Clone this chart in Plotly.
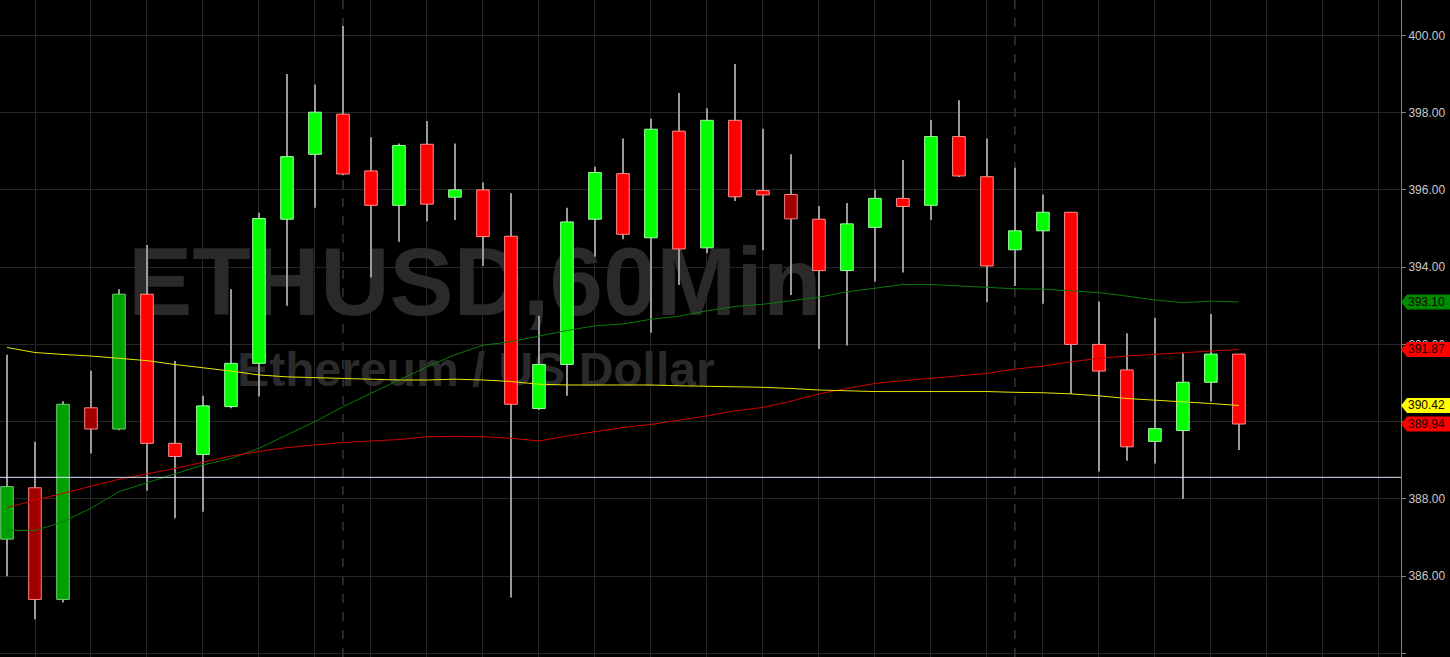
import plotly.graph_objects as go

# ---------------- data ----------------
open_ = [386.96, 388.29, 385.40, 390.36, 389.81, 393.30, 389.44, 389.15, 390.39, 391.51,
         395.24, 396.92, 397.96, 396.49, 395.60, 397.18, 395.81, 396.00, 394.80, 390.34,
         391.48, 395.24, 396.42, 394.76, 397.52, 394.50, 397.80, 395.98, 395.88, 395.24,
         393.91, 395.03, 395.78, 395.60, 397.38, 396.34, 394.45, 394.94, 395.42, 392.00,
         391.34, 389.49, 389.77, 391.02, 391.75]
high = [391.73, 389.48, 390.53, 391.32, 393.43, 394.57, 391.57, 390.67, 393.43, 395.41,
        399.00, 398.73, 400.24, 397.36, 397.20, 397.78, 397.20, 396.19, 395.91, 392.74,
        395.54, 396.60, 397.33, 397.84, 398.51, 398.11, 399.26, 397.58, 396.92, 395.58,
        395.66, 396.01, 396.77, 397.81, 398.32, 397.33, 396.57, 395.88, 395.42, 393.11,
        392.29, 392.69, 391.77, 392.79, 391.75]
low = [386.00, 384.89, 385.32, 389.18, 389.78, 388.21, 387.50, 387.67, 390.35, 390.65,
       393.00, 395.54, 396.38, 393.73, 394.66, 395.19, 395.22, 394.03, 385.45, 390.30,
       390.67, 394.27, 394.72, 392.30, 393.54, 394.36, 395.71, 394.44, 393.28, 391.88,
       391.97, 393.63, 393.86, 395.22, 396.33, 393.09, 393.51, 393.05, 390.72, 388.71,
       388.99, 388.92, 388.00, 390.52, 389.27]
close = [388.32, 385.40, 390.45, 389.81, 393.30, 389.44, 389.10, 390.41, 391.51, 395.26,
         396.86, 398.01, 396.41, 395.60, 397.15, 395.63, 396.00, 394.79, 390.45, 391.48,
         395.17, 396.45, 394.85, 397.57, 394.47, 397.80, 395.82, 395.87, 395.25, 393.91,
         395.12, 395.78, 395.57, 397.38, 396.36, 394.03, 394.94, 395.42, 392.00, 391.31,
         389.35, 389.82, 391.02, 391.75, 389.94]
# candle style: G bright green, g dark green, R bright red, r dark red
style = ["g", "r", "g", "r", "g", "R", "R", "G", "G", "G",
         "G", "G", "R", "R", "G", "R", "G", "R", "R", "G",
         "G", "G", "R", "G", "R", "G", "R", "R", "r", "R",
         "G", "G", "R", "G", "R", "R", "G", "G", "R", "R",
         "R", "G", "G", "G", "R"]

ma_green = [387.20, 387.18, 387.41, 387.76, 388.19, 388.42, 388.65, 388.88, 389.05, 389.31,
            389.66, 390.00, 390.39, 390.73, 391.06, 391.42, 391.73, 391.98, 392.07, 392.22,
            392.36, 392.48, 392.53, 392.65, 392.73, 392.87, 392.98, 393.04, 393.13, 393.22,
            393.36, 393.45, 393.55, 393.55, 393.51, 393.47, 393.44, 393.43, 393.38, 393.34,
            393.25, 393.15, 393.08, 393.12, 393.10]
ma_red = [387.78, 387.97, 388.14, 388.33, 388.51, 388.65, 388.79, 388.95, 389.11, 389.23,
          389.33, 389.40, 389.46, 389.50, 389.54, 389.61, 389.62, 389.61, 389.57, 389.50,
          389.63, 389.74, 389.85, 389.93, 390.04, 390.15, 390.28, 390.37, 390.53, 390.72,
          390.86, 390.99, 391.06, 391.12, 391.18, 391.25, 391.36, 391.44, 391.55, 391.64,
          391.70, 391.74, 391.79, 391.83, 391.87]
ma_yellow = [391.92, 391.79, 391.74, 391.70, 391.64, 391.58, 391.48, 391.40, 391.31, 391.21,
             391.16, 391.14, 391.12, 391.10, 391.08, 391.08, 391.10, 391.08, 391.04, 390.97,
             390.95, 390.95, 390.95, 390.95, 390.93, 390.92, 390.91, 390.89, 390.86, 390.82,
             390.80, 390.78, 390.78, 390.78, 390.79, 390.78, 390.76, 390.75, 390.72, 390.67,
             390.60, 390.56, 390.52, 390.47, 390.42]

hline_level = 388.56
day_separators = [12, 36]
tick_values = [384, 386, 388, 390, 392, 394, 396, 398, 400]
tick_labels = ["", "386.00", "388.00", "390.00", "392.00", "394.00", "396.00", "398.00", "400.00"]
price_tags = [(393.10, "393.10", "#008c00"), (391.87, "391.87", "#ff0000"),
              (390.42, "390.42", "#ffff00"), (389.94, "389.94", "#ff0000")]
title_main = "ETHUSD,60Min"
title_sub = "Ethereum / US Dollar"

# ---------------- styling ----------------
fill_map = {"G": "#00ff00", "g": "#00a000", "R": "#ff0000", "r": "#a00000"}
edge_map = {"G": "#a0ffa0", "g": "#70d070", "R": "#ff9090", "r": "#ff8080"}

x = list(range(len(open_)))
X_RANGE = [-0.25, 49.79]
Y_RANGE = [383.91, 400.914]

fig = go.Figure()

# watermark (base subplot, behind everything)
fig.add_trace(go.Scatter(x=[16.71], y=[393.37], mode="text", text=[title_main],
                         textfont=dict(family="Liberation Sans, Arial", size=96, color="#2a2a2a"),
                         hoverinfo="skip", showlegend=False, xaxis="x", yaxis="y",
                         texttemplate="<b>%{text}</b>"))
fig.add_trace(go.Scatter(x=[16.75], y=[391.24], mode="text", text=[title_sub],
                         textfont=dict(family="Liberation Sans, Arial", size=48, color="#2a2a2a"),
                         hoverinfo="skip", showlegend=False, xaxis="x", yaxis="y",
                         texttemplate="<b>%{text}</b>"))

# wicks as thin bars
fig.add_trace(go.Bar(x=x, base=low, y=[h - l for h, l in zip(high, low)], width=0.04,
                     marker=dict(color="#9a9a9a", line=dict(width=0)),
                     hoverinfo="skip", showlegend=False, xaxis="x2", yaxis="y2"))
# bodies
fig.add_trace(go.Bar(x=x, base=[min(o, c) for o, c in zip(open_, close)],
                     y=[abs(c - o) for o, c in zip(open_, close)], width=0.45,
                     marker=dict(color=[fill_map[s] for s in style],
                                 line=dict(color=[edge_map[s] for s in style], width=1)),
                     hoverinfo="skip", showlegend=False, xaxis="x2", yaxis="y2"))

# moving averages
for arr, col in [(ma_green, "#0a7a0a"), (ma_red, "#d00000"), (ma_yellow, "#e6e600")]:
    fig.add_trace(go.Scatter(x=x, y=arr, mode="lines", line=dict(color=col, width=1),
                             hoverinfo="skip", showlegend=False, xaxis="x2", yaxis="y2"))

shapes = []
for d in day_separators:
    shapes.append(dict(type="line", xref="x", yref="paper", x0=d, x1=d, y0=0, y1=1,
                       line=dict(color="#505050", width=1, dash="dash"), layer="below"))
shapes.append(dict(type="line", xref="paper", yref="y", x0=0, x1=1, y0=hline_level, y1=hline_level,
                   line=dict(color="#dde4ff", width=1), layer="above"))

annotations = []
px = 1.0 / 1401
h = 0.195
for val, txt, col in price_tags:
    path = (f"M 1,{val} L {1 + 6 * px},{val + h} L {1 + 49 * px},{val + h} "
            f"L {1 + 49 * px},{val - h} L {1 + 6 * px},{val - h} Z")
    shapes.append(dict(type="path", xref="paper", yref="y", path=path,
                       fillcolor=col, line=dict(width=0), layer="above"))
    annotations.append(dict(xref="paper", yref="y", x=1 + 5 * px, y=val, text=txt,
                            xanchor="left", yanchor="middle", showarrow=False,
                            font=dict(family="Liberation Sans, Arial", size=12, color="#1a0000")))

fig.update_layout(
    width=1450, height=657,
    margin=dict(l=0, r=49, t=0, b=0),
    paper_bgcolor="#000000", plot_bgcolor="#000000",
    barmode="overlay", showlegend=False,
    shapes=shapes, annotations=annotations,
    xaxis=dict(range=X_RANGE, showticklabels=False, showgrid=True, gridcolor="#262626",
               tick0=1, dtick=2, zeroline=False, ticks="", showline=False, fixedrange=True),
    yaxis=dict(range=Y_RANGE, side="right", tickvals=tick_values, ticktext=tick_labels,
               showgrid=True, gridcolor="#262626", zeroline=False, showline=True,
               linecolor="#808080", linewidth=1, ticks="outside", ticklen=4, tickcolor="#808080",
               tickfont=dict(family="Liberation Sans, Arial", size=12, color="#c8c8c8")),
    xaxis2=dict(range=X_RANGE, overlaying="x", visible=False, showgrid=False),
    yaxis2=dict(range=Y_RANGE, overlaying="y", side="right", visible=False, showgrid=False),
)

fig.write_html("out.html", config={"displayModeBar": False},
               post_script="document.body.style.margin='0';document.body.style.overflow='hidden';"
                           "document.body.style.background='#000';")
